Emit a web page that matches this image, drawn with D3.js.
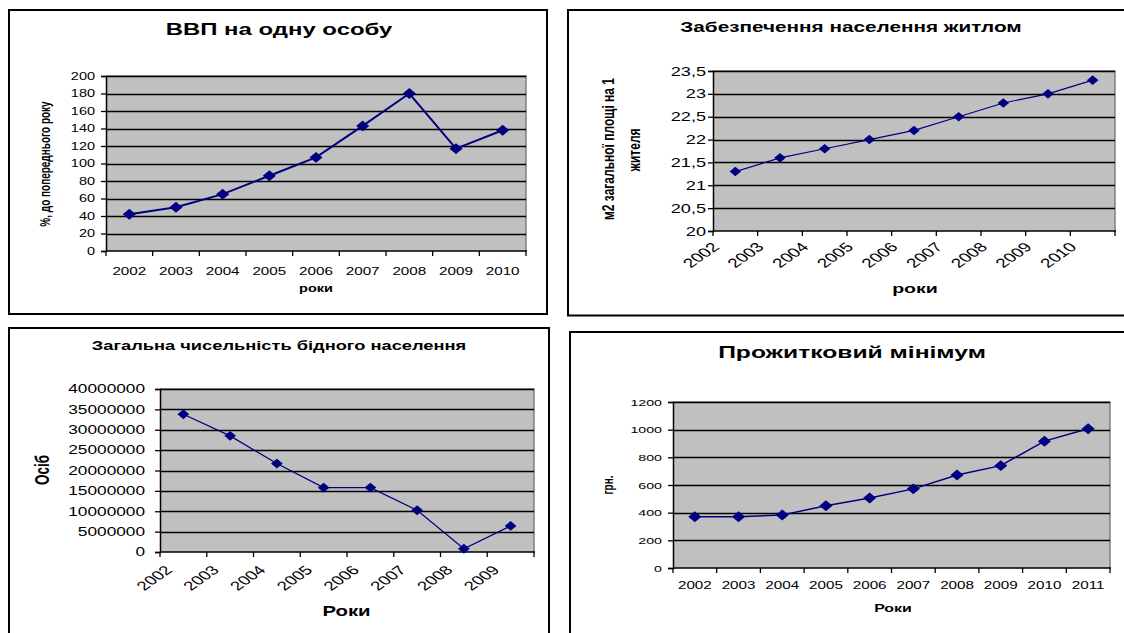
<!DOCTYPE html>
<html><head><meta charset="utf-8">
<script src="https://cdn.jsdelivr.net/npm/d3@7"></script>
<style>body{margin:0;background:#fff}svg{display:block}text{font-family:"Liberation Sans",Arial,sans-serif;fill:#000}</style>
</head><body>
<svg id="c" width="1124" height="633"></svg>
<script>
// ---- data ----
const years1 = ["2002","2003","2004","2005","2006","2007","2008","2009","2010"];
const gdpPerCapita = [42,50,65,86,107,143,180,117,138];
const yTicks1 = [0,20,40,60,80,100,120,140,160,180,200];

const years2 = ["2002","2003","2004","2005","2006","2007","2008","2009","2010"];
const housing = [21.3,21.6,21.8,22.0,22.2,22.5,22.8,23.0,23.3];
const yTicks2 = [20,20.5,21,21.5,22,22.5,23,23.5];

const years3 = ["2002","2003","2004","2005","2006","2007","2008","2009"];
const poorPopulation = [33800000,28500000,21700000,15800000,15800000,10250000,800000,6400000];
const yTicks3 = [0,5000000,10000000,15000000,20000000,25000000,30000000,35000000,40000000];

const years4 = ["2002","2003","2004","2005","2006","2007","2008","2009","2010","2011"];
const livingMinimum = [370,370,383,450,506,572,672,740,917,1007];
const yTicks4 = [0,200,400,600,800,1000,1200];

const titles = ["ВВП на одну особу","Забезпечення населення житлом","Загальна чисельність бідного населення","Прожитковий мінімум"];
const xTitles = ["роки","роки","Роки","Роки"];
const yTitles = [["%, до попереднього року"],["м2 загальної площі на 1","жителя"],["Осіб"],["грн."]];

// ---- drawing ----
const svg = d3.select("#c");
const SX = 1.45;
const NAVY = "#000080";

function txt(g, x, y, s, o){
  o = o||{};
  let tr = `translate(${x},${y}) scale(${o.sx||SX},1)` + (o.rot?` rotate(${o.rot})`:"");
  return g.append("text").attr("transform", tr)
    .attr("text-anchor", o.anchor||"middle")
    .attr("dy", o.dy||0)
    .attr("font-size", o.size)
    .attr("font-weight", o.bold?"bold":"normal")
    .text(s);
}

function panel(cfg){
  const g = svg.append("g");
  g.append("rect").attr("x",cfg.box[0]).attr("y",cfg.box[1])
    .attr("width",cfg.box[2]-cfg.box[0]).attr("height",cfg.box[3]-cfg.box[1])
    .attr("fill","#fff").attr("stroke","#000").attr("stroke-width",2);
  const [L,T,R,B] = cfg.plot;
  const x = d3.scaleBand().domain(cfg.cats).range([L,R]).padding(0);
  const y = d3.scaleLinear().domain(cfg.domain).range([B,T]);
  g.append("rect").attr("x",L).attr("y",T).attr("width",R-L).attr("height",B-T).attr("fill","#c0c0c0");
  g.append("path").attr("d",`M${L},${T}H${R}V${B}`).attr("fill","none").attr("stroke","#808080").attr("stroke-width",1.5);
  // gridlines
  g.append("g").selectAll("line").data(cfg.yTicks.filter(v=>v!==cfg.domain[0])).join("line")
    .attr("x1",L).attr("x2",R).attr("y1",d=>Math.round(y(d))+0.5).attr("y2",d=>Math.round(y(d))+0.5)
    .attr("stroke","#000").attr("stroke-width",1.4);
  // y axis
  const ya = g.append("g").attr("transform",`translate(${L},0)`)
    .call(d3.axisLeft(y).tickValues(cfg.yTicks).tickSize(5).tickFormat(""));
  ya.select(".domain").attr("stroke","#000").attr("stroke-width",1.5);
  ya.selectAll(".tick line").attr("stroke","#000").attr("stroke-width",1.3);
  cfg.yTicks.forEach(v=>{
    txt(g, cfg.yLabX, y(v), cfg.yFmt(v), {anchor:"end", dy:"0.36em", size:cfg.yLabSize});
  });
  // x axis
  const bx = d3.range(cfg.cats.length+1).map(i=>L + i*x.step());
  g.append("line").attr("x1",L).attr("x2",R+1).attr("y1",B).attr("y2",B).attr("stroke","#000").attr("stroke-width",1.5);
  g.append("g").selectAll("line").data(bx).join("line")
    .attr("x1",d=>d).attr("x2",d=>d).attr("y1",B).attr("y2",B+5).attr("stroke","#000").attr("stroke-width",1.3);
  cfg.cats.forEach(c=>{
    const cx = x(c)+x.bandwidth()/2;
    if(cfg.rot) txt(g, cx+cfg.xLabDx, B+cfg.xLabDy, c, {anchor:"end", rot:-45, size:cfg.xLabSize});
    else txt(g, cx, cfg.xLabY, c, {size:cfg.xLabSize});
  });
  // titles
  txt(g, cfg.titleXY[0], cfg.titleXY[1], cfg.title, {size:cfg.titleSize, bold:true});
  txt(g, cfg.xTitleXY[0], cfg.xTitleXY[1], cfg.xTitle, {size:cfg.xTitleSize, bold:true});
  cfg.yTitle.forEach((s,i)=>{
    txt(g, cfg.yTitleXY[i][0], cfg.yTitleXY[i][1], s, {size:cfg.yTitleSize, bold:true, rot:-90, dy:"0.35em"});
  });
  // line + markers
  const pts = cfg.cats.map((c,i)=>[x(c)+x.bandwidth()/2, y(cfg.values[i])]);
  g.append("path").attr("d", d3.line()(pts)).attr("fill","none").attr("stroke",NAVY).attr("stroke-width",cfg.lw);
  const sym = d3.symbol().type(d3.symbolSquare).size(cfg.ms)();
  g.append("g").selectAll("path").data(pts).join("path")
    .attr("d",sym).attr("transform",d=>`translate(${d[0]},${d[1]}) scale(1.2,1) rotate(45)`).attr("fill",NAVY);
}

const comma = v => String(v).replace(".",",");

panel({box:[9,10,547,314], plot:[106,76,526,251], cats:years1, values:gdpPerCapita, domain:[0,200], yTicks:yTicks1,
  yFmt:String, yLabX:95, yLabSize:10, xLabY:274.5, xLabSize:10.5,
  title:titles[0], titleXY:[279,34.5], titleSize:16.5, xTitle:xTitles[0], xTitleXY:[316,292], xTitleSize:10,
  yTitle:yTitles[0], yTitleXY:[[45,164]], yTitleSize:10, lw:2, ms:60});

panel({box:[568,10,1135,315.5], plot:[713,71,1115,231], cats:years2, values:housing, domain:[20,23.5], yTicks:yTicks2,
  yFmt:comma, yLabX:706, yLabSize:12.5, rot:true, xLabDx:-15, xLabDy:17, xLabSize:13,
  title:titles[1], titleXY:[851,31.5], titleSize:14.3, xTitle:xTitles[1], xTitleXY:[915,293], xTitleSize:13.5,
  yTitle:yTitles[1], yTitleXY:[[608,149],[634,150]], yTitleSize:12, lw:1.2, ms:46});

panel({box:[9,328,549,645], plot:[160,389,534,552], cats:years3, values:poorPopulation, domain:[0,40000000], yTicks:yTicks3,
  yFmt:String, yLabX:145, yLabSize:11.9, rot:true, xLabDx:-10, xLabDy:19, xLabSize:12.8,
  title:titles[2], titleXY:[279,350], titleSize:12.6, xTitle:xTitles[2], xTitleXY:[346.5,616], xTitleSize:14,
  yTitle:yTitles[2], yTitleXY:[[42,470]], yTitleSize:13.5, lw:1.2, ms:48});

panel({box:[570,332,1135,645], plot:[673,402,1110,568], cats:years4, values:livingMinimum, domain:[0,1200], yTicks:yTicks4,
  yFmt:String, yLabX:662, yLabSize:9.8, xLabY:589, xLabSize:10.5,
  title:titles[3], titleXY:[852,358], titleSize:17, xTitle:xTitles[3], xTitleXY:[893,611.5], xTitleSize:11,
  yTitle:yTitles[3], yTitleXY:[[608,485]], yTitleSize:10, lw:1.5, ms:60});
</script>
</body></html>
